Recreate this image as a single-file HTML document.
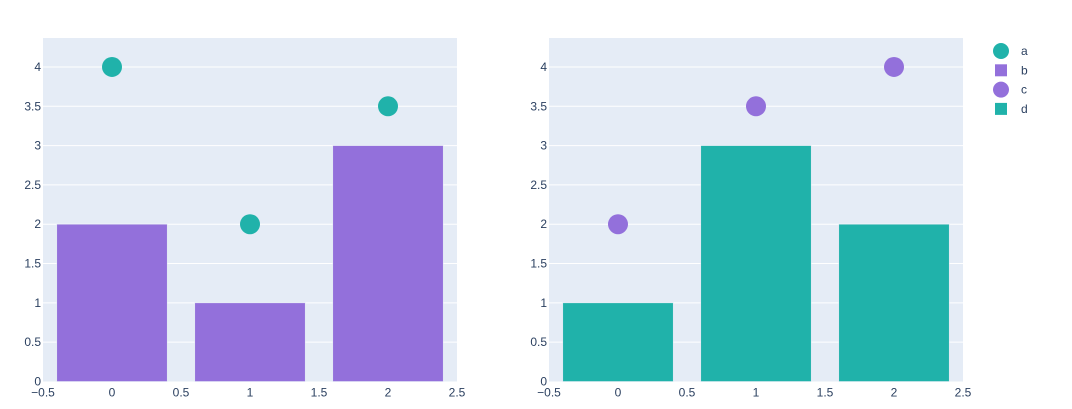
<!DOCTYPE html>
<html><head><meta charset="utf-8"><style>
body{margin:0;background:#fff;font-family:"Liberation Sans",Arial,sans-serif}
svg text{font-family:"Liberation Sans",Arial,sans-serif;font-size:12px;fill:#2a3f5f}
</style></head><body>
<svg id="chart" width="1072" height="404"></svg>
<script>
const categories=[0,1,2];
const leftBars=[2,1,3];
const leftMarkers=[4,2,3.5];
const rightBars=[1,3,2];
const rightMarkers=[2,3.5,4];
const xTicks=[-0.5,0,0.5,1,1.5,2,2.5];
const xTickLabels=["−0.5","0","0.5","1","1.5","2","2.5"];
const yTicks=[0,0.5,1,1.5,2,2.5,3,3.5,4];
const yTickLabels=["0","0.5","1","1.5","2","2.5","3","3.5","4"];
const legendLabels=["a","b","c","d"];

const NS="http://www.w3.org/2000/svg";
const svg=document.getElementById('chart');
function mk(t,a,p){const e=document.createElementNS(NS,t);for(const k in a)e.setAttribute(k,a[k]);(p||svg).appendChild(e);return e;}
const PURPLE="#9370db",TEAL="#20b2aa";
const yTop=38,yBot=381.5,yMax=4.368;
function ys(v){return yBot-(v/yMax)*(yBot-yTop);}
function panel(x0,x1,bars,markers,barColor,markColor,name){
  const g=mk('g',{});
  
  
  const xs=v=>x0+(v+0.5)/3*(x1-x0);
  const bg=mk('rect',{x:x0,y:yTop,width:x1-x0,height:yBot-yTop,fill:'#e5ecf6'},g);
  
  
  yTicks.forEach((t,i)=>{
    if(t>0){const l=mk('line',{x1:x0,x2:x1,y1:ys(t),y2:ys(t),stroke:'#fff','stroke-width':1},g);
      
      }
    const tx=mk('text',{x:x0-2,y:ys(t)+4,'text-anchor':'end'},g);tx.textContent=yTickLabels[i];
    
    
  });
  xTicks.forEach((t,i)=>{
    const tx=mk('text',{x:xs(t),y:yBot+15,'text-anchor':'middle'},g);tx.textContent=xTickLabels[i];
    
    
  });
  categories.forEach((c,i)=>{
    const b=mk('rect',{x:xs(c-0.4),y:ys(bars[i]),width:xs(c+0.4)-xs(c-0.4),height:yBot-ys(bars[i]),fill:barColor,stroke:'#e5ecf6','stroke-width':0.5},g);
    
    
  });
  categories.forEach((c,i)=>{
    const m=mk('circle',{cx:xs(c),cy:ys(markers[i]),r:10,fill:markColor},g);
    
    
  });
}
panel(43,457,leftBars,leftMarkers,PURPLE,TEAL,'left-subplot');
panel(549,963,rightBars,rightMarkers,TEAL,PURPLE,'right-subplot');
const lg=mk('g',{});


const lcol=[TEAL,PURPLE,PURPLE,TEAL],lshape=['c','s','c','s'];
legendLabels.forEach((lab,i)=>{
  const y=51+i*19.3;
  const it=mk('g',{},lg);
  
  
  if(lshape[i]==='c')mk('circle',{cx:1001,cy:y,r:8,fill:lcol[i]},it);
  else mk('rect',{x:995,y:y-6,width:12,height:12,fill:lcol[i]},it);
  const t=mk('text',{x:1021,y:y+4},it);t.textContent=lab;
});
</script>
</body></html>
